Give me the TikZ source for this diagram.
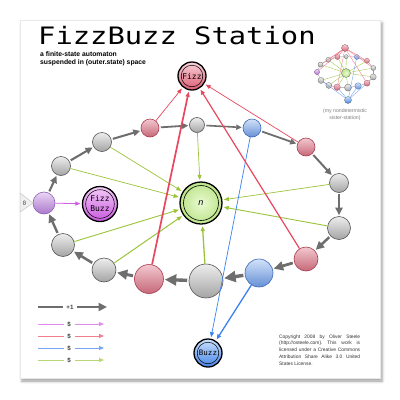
\documentclass[tikz,border=0pt]{standalone}
\usepackage{fontspec}
\setmainfont{Liberation Sans}
\newfontfamily\monofont{DejaVu Sans Mono}
\newfontfamily\titlefont[FakeStretch=1.2]{DejaVu Sans Mono}
\usetikzlibrary{arrows.meta,shadows.blur}

\definecolor{ringgray}{HTML}{6E6E6E}
\definecolor{fizzedge}{HTML}{E8485F}
\definecolor{buzzedge}{HTML}{3B82F0}
\definecolor{nedge}{HTML}{9BC43A}
\definecolor{fbedge}{HTML}{D45AE8}
\definecolor{gtop}{HTML}{EDEDED}
\definecolor{gbot}{HTML}{A4A4A4}
\definecolor{gline}{HTML}{555555}
\definecolor{rtop}{HTML}{F2C8CF}
\definecolor{rbot}{HTML}{C66878}
\definecolor{rline}{HTML}{A83C4E}
\definecolor{btop}{HTML}{D2E2F8}
\definecolor{bbot}{HTML}{6690D6}
\definecolor{bline}{HTML}{3A68B6}
\definecolor{ptop}{HTML}{EAD6F4}
\definecolor{pbot}{HTML}{AA78CC}
\definecolor{pline}{HTML}{9060B4}
\definecolor{fizztop}{HTML}{F8D2DA}
\definecolor{fizzbot}{HTML}{DC5C72}
\definecolor{buzztop}{HTML}{CCE2FF}
\definecolor{buzzbot}{HTML}{4684E6}
\definecolor{fbtop}{HTML}{F4CCF8}
\definecolor{fbbot}{HTML}{C858DE}
\definecolor{nin}{HTML}{EAFAD4}
\definecolor{nout}{HTML}{BCE488}

\tikzset{
  st/.style={circle, inner sep=0pt, minimum size=#1, line width=0.6pt},
  gst/.style={st=#1, draw=gline, top color=gtop, bottom color=gbot},
  rst/.style={st=#1, draw=rline, top color=rtop, bottom color=rbot},
  bst/.style={st=#1, draw=bline, top color=btop, bottom color=bbot},
  pst/.style={st=#1, draw=pline, top color=ptop, bottom color=pbot},
  acc/.style={circle, inner sep=0pt, minimum size=#1, draw=black, line width=1.3pt},
  ringarrow/.style={draw=ringgray, line width=#1, shorten <=1.5pt, shorten >=1pt,
    -{Triangle[length=0pt 3.4 0, width=0pt 3.2 0]}},
  cedge/.style={line width=#1, shorten >=1.5pt, -{Triangle[length=5pt, width=4pt]}},
  gedge/.style={cedge=#1, draw=nedge},
  redge/.style={cedge=#1, draw=fizzedge},
  bedge/.style={cedge=#1, draw=buzzedge},
  legtxt/.style={inner sep=2pt, font=\bfseries\fontsize{6.2}{7}\selectfont, text=black!75},
  mini/.style={circle, inner sep=0pt, minimum size=#1, line width=0.25pt},
  mg/.style={mini=#1, draw=gline, top color=gtop, bottom color=gbot},
  mr/.style={mini=#1, draw=rline, top color=rtop, bottom color=rbot},
  mb/.style={mini=#1, draw=bline, top color=btop, bottom color=bbot},
  mp/.style={mini=#1, draw=pline, top color=ptop, bottom color=pbot},
}

\begin{document}
\begin{tikzpicture}[x=1pt,y=-1pt]
\useasboundingbox (0,0) rectangle (400,400);
% card
\path[fill=white, draw=gray!18, line width=0.4pt,
  blur shadow={shadow xshift=2pt, shadow yshift=-3pt, shadow blur radius=3pt, shadow opacity=40}]
  (20,20) rectangle (380,378);

% title
\node[anchor=base west, inner sep=0pt, font=\titlefont\fontsize{24}{24}\selectfont] (title) at (38,44.7) {FizzBuzz Station};
\node[anchor=base west, inner sep=0pt, align=left, font=\bfseries\fontsize{6.8}{8.4}\selectfont] (subtitle) at (40,64.7)
  {a finite-state automaton\\suspended in (outer.state) space};

% ring states
\node[pst=22pt] (s0) at (44,203) {};
\node[gst=19pt] (s1) at (61,166) {};
\node[gst=19pt] (s2) at (102,142) {};
\node[rst=18pt] (s3) at (150,128) {};
\node[gst=15pt] (s4) at (197,125) {};
\node[bst=18pt] (s5) at (252,128) {};
\node[rst=18pt] (s6) at (306,147) {};
\node[gst=19pt] (s7) at (339,183) {};
\node[gst=23pt] (s8) at (339,228) {};
\node[rst=24pt] (s9) at (306,259) {};
\node[bst=28pt] (s10) at (259,273) {};
\node[gst=34pt] (s11) at (206,281) {};
\node[rst=29pt] (s12) at (149,279) {};
\node[gst=24pt] (s13) at (104,270) {};
\node[gst=23pt] (s14) at (63,245) {};

% output states
\node[acc=28pt, top color=fizztop, bottom color=fizzbot, font=\monofont\fontsize{8}{9}\selectfont] (fizz) at (192,76) {Fizz};
\node[acc=28pt, top color=buzztop, bottom color=buzzbot, font=\monofont\fontsize{7.5}{9}\selectfont] (buzz) at (208,353) {Buzz};
\node[acc=35pt, top color=fbtop, bottom color=fbbot, align=center, font=\monofont\fontsize{8}{10}\selectfont] (fb) at (100,204) {Fizz\\Buzz};
\node[acc=42pt, inner color=nin, outer color=nout, font=\itshape\fontsize{9}{10}\selectfont] (n) at (201,203) {n};
\draw[line width=0.5pt] (fizz.center) circle (10.8pt);
\draw[line width=0.5pt] (buzz.center) circle (10.8pt);
\draw[line width=0.5pt] (fb.center) circle (14.3pt);
\draw[line width=0.6pt] (n.center) circle (17.5pt);

% initial marker
\draw[fill=gray!12, draw=gray!45, line width=0.5pt] (20,193) -- (33,203) -- (20,212) -- cycle;
\node[inner sep=0pt, text=gray!60!black, font=\monofont\fontsize{6}{7}\selectfont] (init) at (24.5,203) {0};

% +1 ring transitions
\draw[ringarrow=2.1pt] (s0) -- (s1);
\draw[ringarrow=2.1pt] (s1) -- (s2);
\draw[ringarrow=2.0pt] (s2) -- (s3);
\draw[ringarrow=1.8pt] (s3) -- (s4);
\draw[ringarrow=1.6pt] (s4) -- (s5);
\draw[ringarrow=1.8pt] (s5) -- (s6);
\draw[ringarrow=2.0pt] (s6) -- (s7);
\draw[ringarrow=2.2pt] (s7) -- (s8);
\draw[ringarrow=2.5pt] (s8) -- (s9);
\draw[ringarrow=2.8pt] (s9) -- (s10);
\draw[ringarrow=3.4pt] (s10) -- (s11);
\draw[ringarrow=3.4pt] (s11) -- (s12);
\draw[ringarrow=3.0pt] (s12) -- (s13);
\draw[ringarrow=2.6pt] (s13) -- (s14);
\draw[ringarrow=2.4pt] (s14) -- (s0);

% n outputs
\draw[gedge=0.7pt] (s1) -- (n);
\draw[gedge=0.7pt] (s2) -- (n);
\draw[gedge=0.7pt] (s4) -- (n);
\draw[gedge=0.7pt] (s7) -- (n);
\draw[gedge=0.9pt] (s8) -- (n);
\draw[gedge=1.3pt] (s11) -- (n);
\draw[gedge=1.0pt] (s13) -- (n);
\draw[gedge=0.9pt] (s14) -- (n);

% Fizz outputs
\draw[redge=0.7pt] (s3) -- (fizz);
\draw[redge=0.7pt] (s6) -- (fizz);
\draw[redge=1.2pt] (s9) -- (fizz);
\draw[redge=1.7pt] (s12) -- (fizz);

% Buzz outputs
\draw[bedge=0.7pt] (s5) -- (buzz);
\draw[bedge=1.3pt] (s10) -- (buzz);

% FizzBuzz output
\draw[cedge=0.8pt, draw=fbedge] (s0) -- (fb);

% legend
\coordinate (la0) at (38,307);
\node[legtxt] (lt0) at (70,307) {+1};
\coordinate (lb0) at (108,307);
\draw[draw=ringgray, line width=2.5pt, shorten >=1pt] (la0) -- (lt0);
\draw[ringarrow=2.5pt] (lt0) -- (lb0);

\coordinate (la1) at (38,324);
\node[legtxt] (lt1) at (69,324) {\$};
\coordinate (lb1) at (104,324);
\draw[draw=fbedge!70, line width=0.9pt, shorten >=1pt] (la1) -- (lt1);
\draw[cedge=0.9pt, draw=fbedge!70, shorten <=2pt, shorten >=0pt] (lt1) -- (lb1);

\coordinate (la2) at (38,336);
\node[legtxt] (lt2) at (69,336) {\$};
\coordinate (lb2) at (104,336);
\draw[draw=fizzedge!70, line width=0.9pt, shorten >=1pt] (la2) -- (lt2);
\draw[cedge=0.9pt, draw=fizzedge!70, shorten <=2pt, shorten >=0pt] (lt2) -- (lb2);

\coordinate (la3) at (38,348);
\node[legtxt] (lt3) at (69,348) {\$};
\coordinate (lb3) at (104,348);
\draw[draw=buzzedge!70, line width=0.9pt, shorten >=1pt] (la3) -- (lt3);
\draw[cedge=0.9pt, draw=buzzedge!70, shorten <=2pt, shorten >=0pt] (lt3) -- (lb3);

\coordinate (la4) at (38,360);
\node[legtxt] (lt4) at (69,360) {\$};
\coordinate (lb4) at (104,360);
\draw[draw=nedge!70, line width=0.9pt, shorten >=1pt] (la4) -- (lt4);
\draw[cedge=0.9pt, draw=nedge!70, shorten <=2pt, shorten >=0pt] (lt4) -- (lb4);

% copyright
\node[anchor=north west, inner sep=0pt, text width=81pt, align=justify, text=black!80,
  font=\fontsize{4.9}{6.7}\selectfont] (copy) at (279,334.5)
  {Copyright 2008 by Oliver Steele\linebreak (http://osteele.com).\quad This work is\linebreak licensed under a Creative Commons\linebreak Attribution Share Alike 3.0 United\linebreak States License.};

% inset: nondeterministic sister-station
\node[mr=5pt] (i0) at (317,72) {};
\node[mg=5pt] (i1) at (320.5,64.6) {};
\node[mg=5pt] (i2) at (328.3,59.8) {};
\node[mr=5pt] (i3) at (337.4,57) {};
\node[mg=4pt] (i4) at (346.2,56.6) {};
\node[mb=5pt] (i5) at (356.8,57) {};
\node[mr=5pt] (i6) at (367,60.8) {};
\node[mg=5pt] (i7) at (373.3,68) {};
\node[mg=6pt] (i8) at (373.3,77) {};
\node[mr=6pt] (i9) at (367,83.2) {};
\node[mb=6.5pt] (i10) at (358.1,86) {};
\node[mg=7pt] (i11) at (348,87.6) {};
\node[mr=6.5pt] (i12) at (337.2,87.2) {};
\node[mg=6pt] (i13) at (328.8,85.4) {};
\node[mg=6pt] (i14) at (321,80.4) {};
\node[mp=5pt] (ifb) at (317,72) {};
\node[mini=7pt, draw=black!70, top color=fizztop, bottom color=fizzbot] (ifizz) at (345,48) {};
\node[mini=7pt, draw=black!70, top color=buzztop, bottom color=buzzbot] (ibuzz) at (348,100) {};
\node[mini=9pt, draw=black!70, inner color=nin, outer color=nout] (in) at (346,73) {};
\foreach \a/\b in {0/1,1/2,2/3,3/4,4/5,5/6,6/7,7/8,8/9,9/10,10/11,11/12,12/13,13/14,14/0}
  \draw[ringgray!70, line width=0.4pt] (i\a) -- (i\b);
\foreach \a in {1,2,4,7,8,11,13,14,3,6,12}
  \draw[nedge, line width=0.3pt] (i\a) -- (in);
\foreach \a in {0,1,3,6,7,9,12,2}
  \draw[fizzedge!80, line width=0.3pt] (i\a) -- (ifizz);
\foreach \a in {5,10,12,14,9}
  \draw[buzzedge!80, line width=0.3pt] (i\a) -- (ibuzz);
\node[align=center, inner sep=0pt, text=black!50, font=\fontsize{5.2}{7.5}\selectfont] (icap) at (345,114.5)
  {(my nondetermistic\\sister-station)};
\end{tikzpicture}
\end{document}
